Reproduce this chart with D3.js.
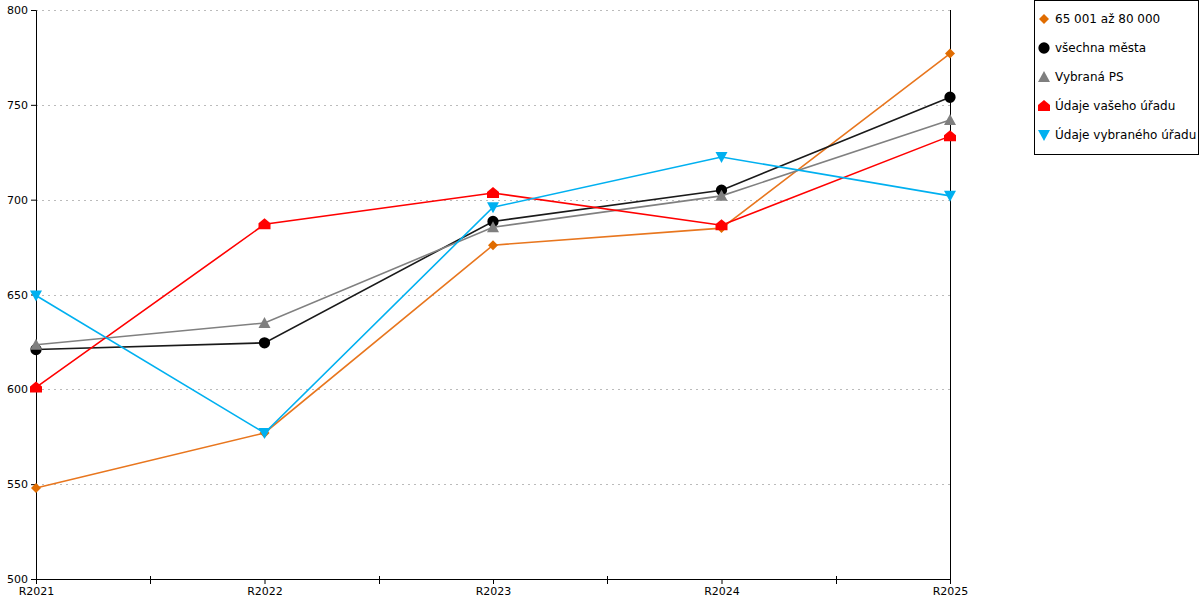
<!DOCTYPE html>
<html>
<head>
<meta charset="utf-8">
<script src="https://cdn.jsdelivr.net/npm/d3@7"></script>
<style>
  body { margin: 0; background: #fff; }
  text { font-family: "DejaVu Sans", Verdana, sans-serif; }
</style>
</head>
<body>
<div id="chart"></div>
<script>
// data
const years = ["R2021", "R2022", "R2023", "R2024", "R2025"];
const yTicks = [500, 550, 600, 650, 700, 750, 800];

const seriesNames = ["65 001 až 80 000", "všechna města", "Vybraná PS", "Údaje vašeho úřadu", "Údaje vybraného úřadu"];
const orangeValues = [548, 577, 676, 685, 777];
const blackValues = [621, 624.5, 688.5, 705, 754];
const greyValues = [623.5, 635, 685.5, 702, 742];
const redValues = [601, 687, 703.5, 686.5, 733.5];
const blueValues = [649.5, 577, 696, 722.5, 702];

const seriesColors = ["#e8761e", "#1a1a1a", "#808080", "#ff0000", "#00b0f0"];
const markerColors = ["#e06c00", "#000000", "#7f7f7f", "#ff0000", "#00b0f0"];
const markerShapes = ["diamond", "circle", "triangle", "house", "triangleDown"];

const series = seriesNames.map((name, i) => ({
  name,
  values: [orangeValues, blackValues, greyValues, redValues, blueValues][i],
  color: seriesColors[i],
  markerColor: markerColors[i],
  shape: markerShapes[i]
}));

const W = 1200, H = 600;
const margin = { top: 10, right: 250, bottom: 21, left: 36 };
const width = 950 - margin.left;
const height = 579 - margin.top;

const svg = d3.select("#chart").append("svg")
  .attr("width", W).attr("height", H);

const g = svg.append("g")
  .attr("transform", `translate(${margin.left}, ${margin.top})`);

const x = d3.scalePoint().domain(years).range([0, width]);
const y = d3.scaleLinear().domain([500, 800]).range([height, 0]);

// gridlines
g.append("g")
  .selectAll("line")
  .data(yTicks.filter(t => t > 500))
  .enter().append("line")
  .attr("x1", 0).attr("x2", width)
  .attr("y1", d => Math.round(y(d)) + 0.5).attr("y2", d => Math.round(y(d)) + 0.5)
  .attr("stroke", "#bbbbbb")
  .attr("stroke-dasharray", "2,4");

// left axis
const yAxis = g.append("g")
  .call(d3.axisLeft(y).tickValues(yTicks).tickSize(5).tickPadding(3).tickFormat(d3.format("d")));
yAxis.select(".domain").attr("stroke", "#000");
yAxis.selectAll("text").style("font-size", "11px").attr("fill", "#000");

// right line
g.append("line")
  .attr("x1", width + 0.5).attr("x2", width + 0.5)
  .attr("y1", 0).attr("y2", height)
  .attr("stroke", "#000");

// bottom axis
const xAxis = g.append("g")
  .attr("transform", `translate(0, ${height})`)
  .call(d3.axisBottom(x).tickSize(5).tickPadding(3).tickSizeOuter(0));
xAxis.select(".domain").attr("stroke", "#000");
xAxis.selectAll("text").style("font-size", "11px").attr("fill", "#000");

// minor ticks between categories
const step = x.step();
g.append("g")
  .selectAll("line")
  .data(years.slice(0, -1))
  .enter().append("line")
  .attr("x1", d => Math.round(x(d) + step / 2) + 0.5)
  .attr("x2", d => Math.round(x(d) + step / 2) + 0.5)
  .attr("y1", height - 3).attr("y2", height + 5)
  .attr("stroke", "#000");

// marker symbols
function markerPath(shape) {
  switch (shape) {
    case "diamond": return "M0,-5L5,0L0,5L-5,0Z";
    case "circle": return d3.symbol().type(d3.symbolCircle).size(100)();
    case "triangle": return "M0,-6L6,5L-6,5Z";
    case "house": return "M0,-6L6,-1L6,5L-6,5L-6,-1Z";
    case "triangleDown": return "M-6,-5L6,-5L0,6Z";
  }
}

const line = d3.line()
  .x((d, i) => x(years[i]))
  .y(d => y(d));

series.forEach(s => {
  g.append("path")
    .datum(s.values)
    .attr("fill", "none")
    .attr("stroke", s.color)
    .attr("stroke-width", 1.6)
    .attr("d", line);

  g.append("g")
    .selectAll("path")
    .data(s.values)
    .enter().append("path")
    .attr("transform", (d, i) => `translate(${x(years[i])}, ${y(d)})`)
    .attr("d", markerPath(s.shape))
    .attr("fill", s.markerColor);
});

// legend
const legend = svg.append("g");
legend.append("rect")
  .attr("x", 1034.5).attr("y", 0.5)
  .attr("width", 164).attr("height", 154)
  .attr("fill", "#fff").attr("stroke", "#000");

const items = legend.selectAll(".item")
  .data(series)
  .enter().append("g")
  .attr("class", "item")
  .attr("transform", (d, i) => `translate(1044, ${19 + i * 29})`);

items.append("path")
  .attr("d", d => markerPath(d.shape))
  .attr("fill", d => d.markerColor);

items.append("text")
  .attr("x", 11)
  .attr("dy", "0.35em")
  .style("font-size", "12px")
  .attr("fill", "#000")
  .text(d => d.name);
</script>
</body>
</html>
